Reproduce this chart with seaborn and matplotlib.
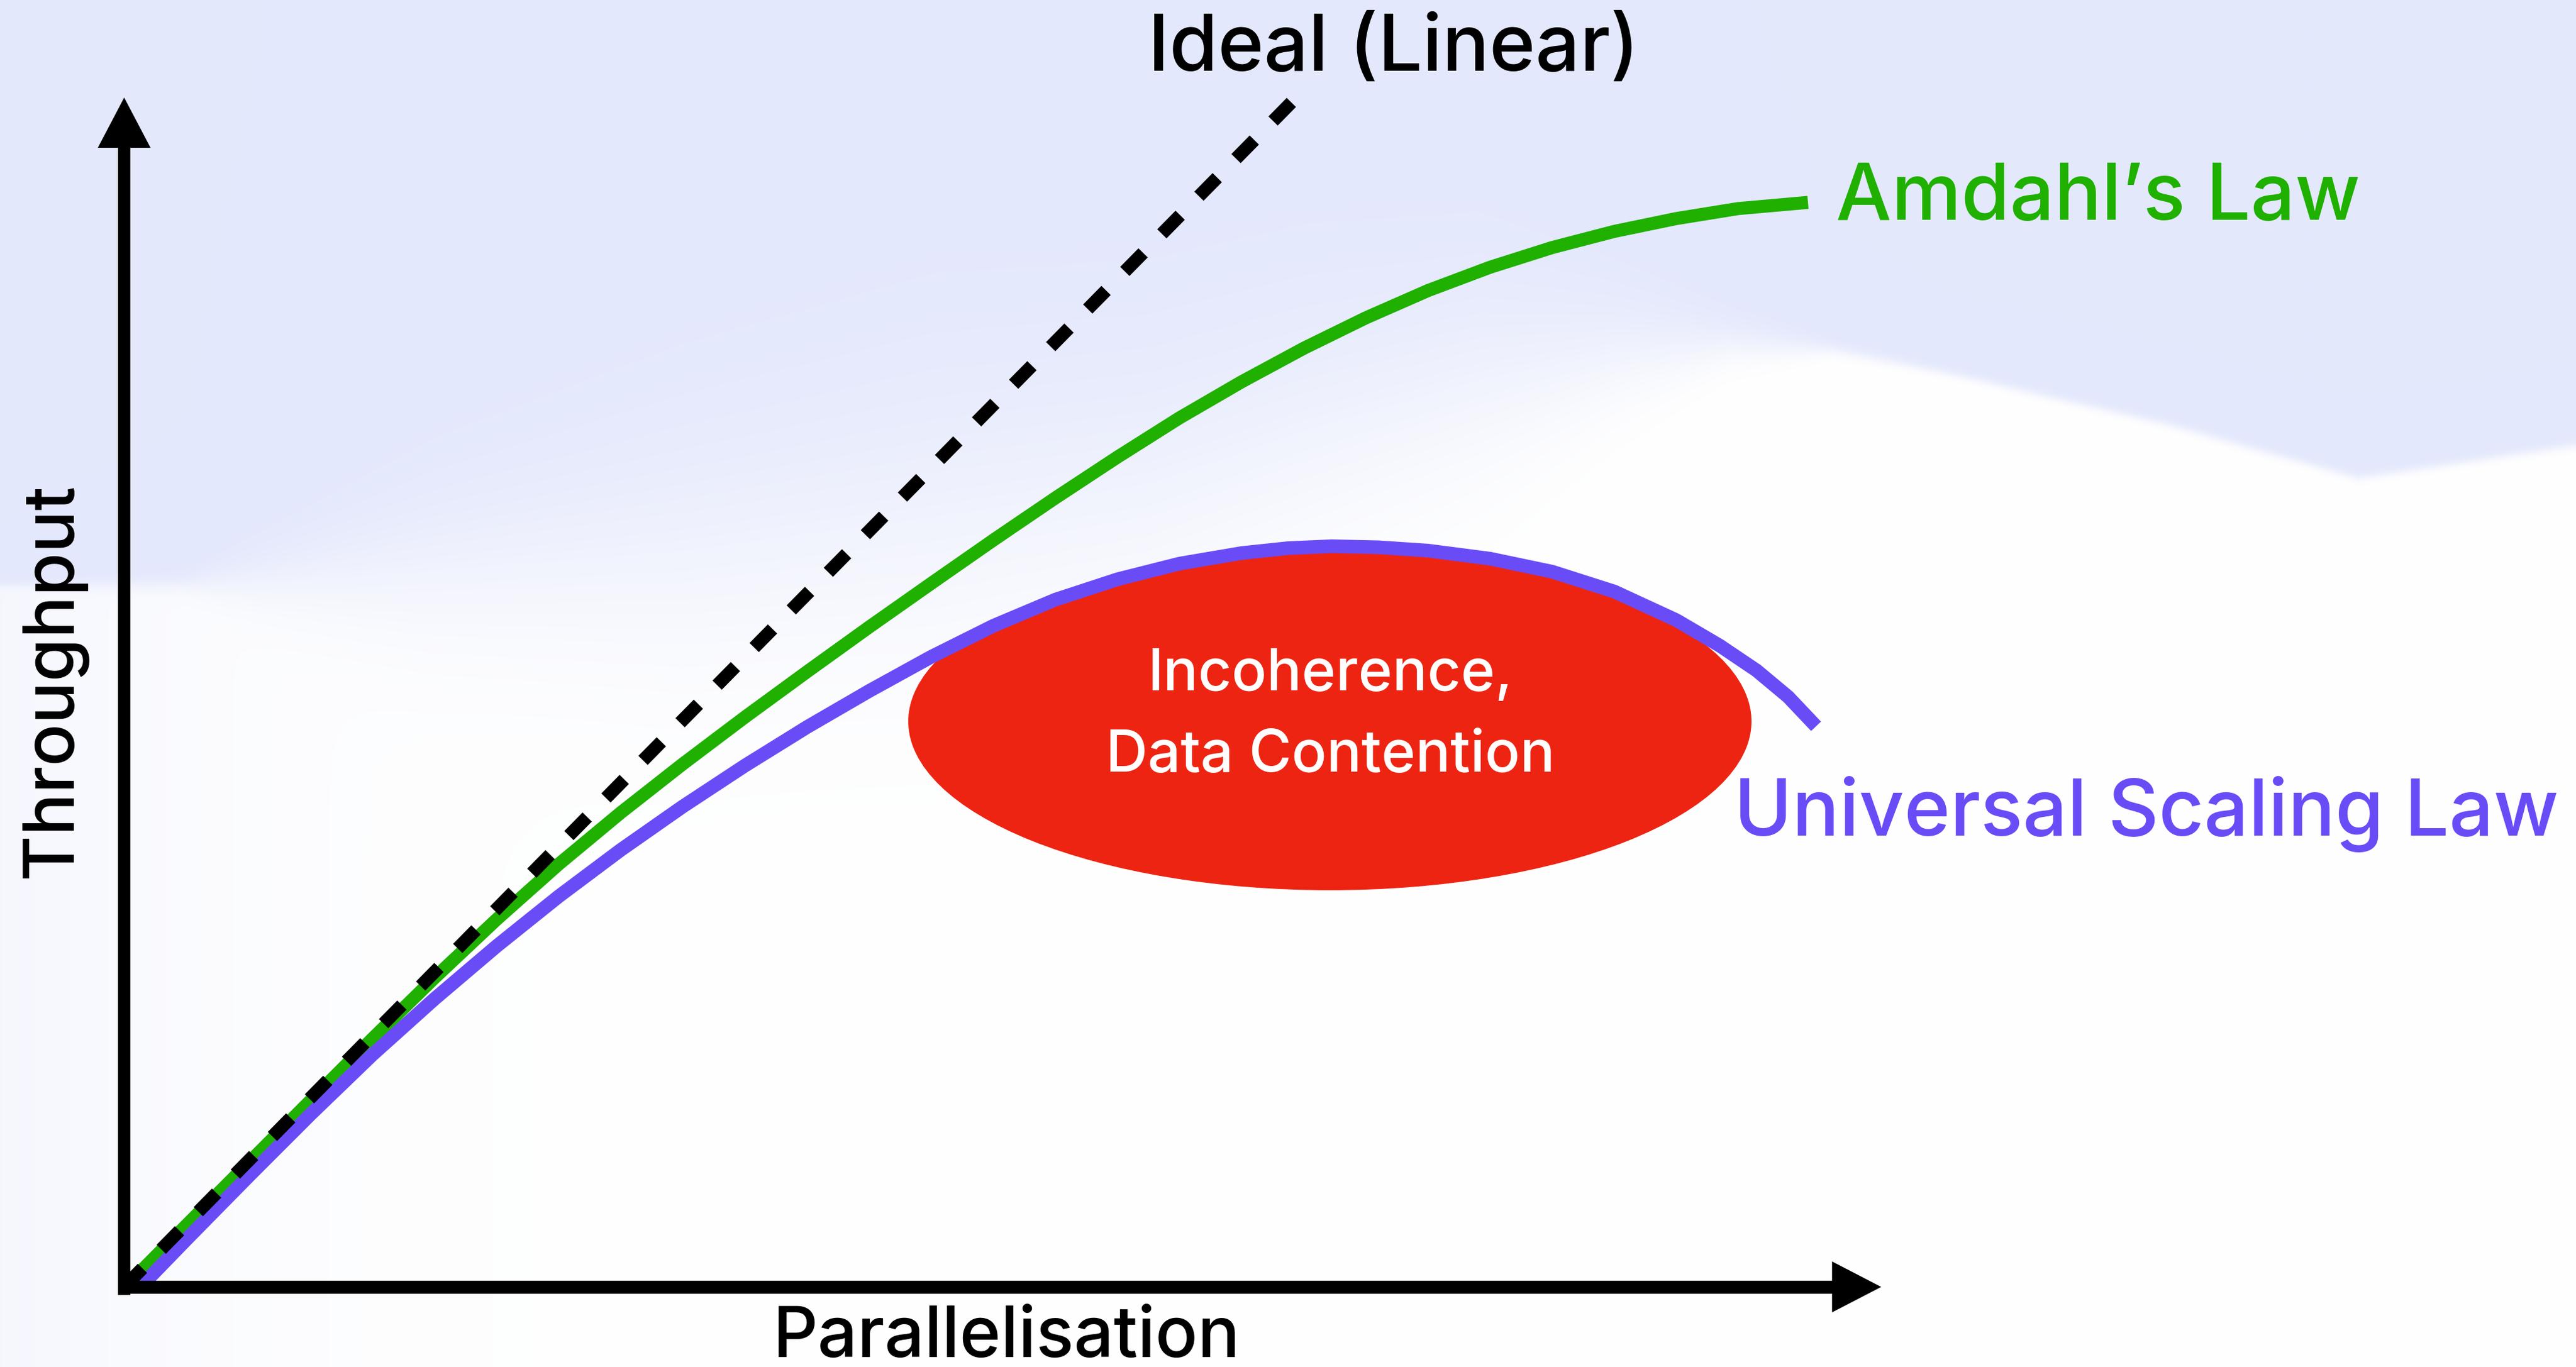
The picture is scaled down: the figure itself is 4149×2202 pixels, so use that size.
import numpy as np
import pandas as pd
import matplotlib
matplotlib.use("Agg")
import matplotlib.pyplot as plt
from matplotlib.patches import Ellipse, Polygon
import seaborn as sns

# ---- curve readings (parallelisation vs throughput, arbitrary units) ----
ideal_x = [0.0, 66.9]
ideal_y = [0.0, 67.9]

amdahl_x = [0.07, 3.53, 7.07, 10.60, 14.13, 17.67, 21.20, 24.73, 28.27, 31.80,
            35.34, 38.87, 42.40, 45.94, 49.47, 53.00, 56.54, 60.07, 63.60,
            67.14, 70.67, 74.20, 77.74, 81.27, 84.81, 88.34, 91.87, 95.83]
amdahl_y = [0.0, 3.50, 7.05, 10.60, 14.13, 17.60, 20.92, 24.06, 27.00, 29.77,
            32.44, 35.02, 37.56, 40.05, 42.51, 44.91, 47.24, 49.47, 51.52,
            53.43, 55.16, 56.71, 58.04, 59.16, 60.08, 60.81, 61.38, 61.73]

usl_x = [0.92, 3.53, 7.07, 10.60, 14.13, 17.67, 21.20, 24.73, 28.27, 31.80,
         35.34, 38.87, 42.40, 45.94, 49.47, 53.00, 56.54, 60.07, 63.60, 66.25,
         68.73, 71.38, 74.20, 77.74, 81.27, 84.81, 88.34, 90.81, 92.90, 94.70,
         96.29]
usl_y = [0.0, 2.69, 6.29, 9.82, 13.22, 16.40, 19.40, 22.23, 24.88, 27.35,
         29.68, 31.87, 33.92, 35.87, 37.63, 39.12, 40.28, 41.17, 41.77, 42.05,
         42.16, 42.10, 41.91, 41.45, 40.71, 39.58, 37.95, 36.50, 35.09, 33.59,
         31.91]

# contention region (centre, full width, full height)
zone_center = (68.62, 32.19)
zone_size = (47.99, 19.22)

# ---- text ----
ideal_label = "Ideal (Linear)"
amdahl_label = "Amdahl\u2019s Law"
usl_label = "Universal Scaling Law"
x_label = "Parallelisation"
y_label = "Throughput"
zone_lines = ["Incoherence,", "Data Contention"]

# ---- colours ----
GREEN = "#1FB000"
PURPLE = "#6A4CF7"
RED = "#EE2412"
LAVENDER = np.array([228, 232, 252]) / 255.0

W_PX, H_PX, DPI = 4149, 2202, 200
PX = 28.3                 # pixels per data unit
ORIGIN = (200.0, 2073.0)  # pixel position of the data origin
XLIM = (-ORIGIN[0] / PX, (W_PX - ORIGIN[0]) / PX)
YLIM = ((ORIGIN[1] - H_PX) / PX, ORIGIN[1] / PX)


def pt(px):
    return px * 72.0 / DPI


sns.set_theme(style="white")
plt.rcParams["font.family"] = ["Inter", "DejaVu Sans"]

fig = plt.figure(figsize=(W_PX / DPI, H_PX / DPI), dpi=DPI)
ax = fig.add_axes([0, 0, 1, 1])


# ---- soft lavender backdrop with a wavy lower edge ----
def backdrop(ax):
    step = 3
    xs = np.arange(0, W_PX, step, dtype=float)
    ys = np.arange(0, H_PX, step, dtype=float)
    X, Y = np.meshgrid(xs, ys)
    bx = [0, 300, 700, 1100, 1500, 1850, 2100, 2380, 2600, 2780, 2950, 3144, 3488, 3797, 4149]
    by = [942, 941, 915, 890, 840, 786, 700, 618, 570, 553, 562, 602, 682, 769, 716]
    bs = [3, 8, 70, 110, 130, 120, 110, 90, 50, 20, 6, 4, 4, 4, 4]
    edge = np.interp(xs, bx, by)[None, :]
    soft = np.interp(xs, bx, bs)[None, :]
    a = 1.0 / (1.0 + np.exp(np.clip((Y - edge) / soft, -50, 50)))
    # faint tint along the left margin
    tint = 0.35 * np.exp(-X / 380.0) * (1 - a)
    a = np.clip(a + tint, 0, 1)
    img = np.ones(X.shape + (3,)) * (1 - a[..., None]) + LAVENDER * a[..., None]
    ax.imshow(img, extent=(XLIM[0], XLIM[1], YLIM[0], YLIM[1]), origin="upper",
              aspect="auto", interpolation="bilinear", zorder=0)


backdrop(ax)

# ---- contention region: tucked underneath the scaling-law curve ----
zone = Ellipse(zone_center, zone_size[0], zone_size[1], facecolor=RED,
               edgecolor="none", zorder=2)
ax.add_patch(zone)
under_curve = Polygon(list(zip(usl_x, usl_y)) + [(usl_x[-1], -5.0), (usl_x[0], -5.0)],
                      closed=True, transform=ax.transData)
zone.set_clip_path(under_curve)

# ---- curves ----
amdahl = pd.DataFrame({"x": amdahl_x, "y": amdahl_y})
usl = pd.DataFrame({"x": usl_x, "y": usl_y})
ideal = pd.DataFrame({"x": ideal_x, "y": ideal_y})

sns.lineplot(data=amdahl, x="x", y="y", ax=ax, color=GREEN, zorder=3)
ln = ax.lines[-1]
ln.set_linewidth(pt(21))
ln.set_solid_capstyle("butt")
ln.set_solid_joinstyle("round")

sns.lineplot(data=usl, x="x", y="y", ax=ax, color=PURPLE, zorder=4)
ln = ax.lines[-1]
ln.set_linewidth(pt(22))
ln.set_solid_capstyle("butt")
ln.set_solid_joinstyle("round")

sns.lineplot(data=ideal, x="x", y="y", ax=ax, color="black", zorder=5)
ln = ax.lines[-1]
ln.set_linewidth(pt(21))
ln.set_linestyle((0, (2.0, 2.05)))
ln.set_dash_capstyle("butt")

# ---- axes with arrow heads ----
x_tip, x_base, x_half = 100.0, 97.2, 1.45
y_tip, y_base, y_half = 67.7, 64.84, 1.5
ax.plot([0, 0], [-0.46, y_base + 0.1], color="black", lw=pt(20),
        solid_capstyle="butt", zorder=6)
ax.plot([-0.35, x_base + 0.1], [0, 0], color="black", lw=pt(21),
        solid_capstyle="butt", zorder=6)
ax.add_patch(Polygon([[0, y_tip], [-y_half, y_base], [y_half, y_base]],
                     closed=True, facecolor="black", edgecolor="none", zorder=6))
ax.add_patch(Polygon([[x_tip, 0], [x_base, x_half], [x_base, -x_half]],
                     closed=True, facecolor="black", edgecolor="none", zorder=6))

# ---- labels ----
BIG = 45.5
AXIS = 40.7
SMALL = 33.7
WEIGHT = "medium"
ax.text(72.26, 69.22, ideal_label, ha="center", va="baseline", fontsize=BIG,
        color="black", fontweight=WEIGHT, zorder=7)
ax.text(97.42, 60.74, amdahl_label, ha="left", va="baseline", fontsize=BIG,
        color=GREEN, fontweight=WEIGHT, zorder=7)
ax.text(91.63, 25.69, usl_label, ha="left", va="baseline", fontsize=BIG,
        color=PURPLE, fontweight=WEIGHT, zorder=7)
ax.text(50.21, -3.99, x_label, ha="center", va="baseline", fontsize=AXIS,
        color="black", fontweight=WEIGHT, zorder=7)
ax.text(-3.0, 34.52, y_label, ha="center", va="baseline", rotation=90,
        rotation_mode="anchor", fontsize=AXIS, color="black",
        fontweight=WEIGHT, zorder=7)
ax.text(68.66, 33.96, zone_lines[0], ha="center", va="baseline",
        fontsize=SMALL, color="white", fontweight=WEIGHT, zorder=7)
ax.text(68.66, 29.33, zone_lines[1], ha="center", va="baseline",
        fontsize=SMALL, color="white", fontweight=WEIGHT, zorder=7)

ax.set_xlim(*XLIM)
ax.set_ylim(*YLIM)
ax.set_axis_off()

fig.savefig("out.png", dpi=DPI)
